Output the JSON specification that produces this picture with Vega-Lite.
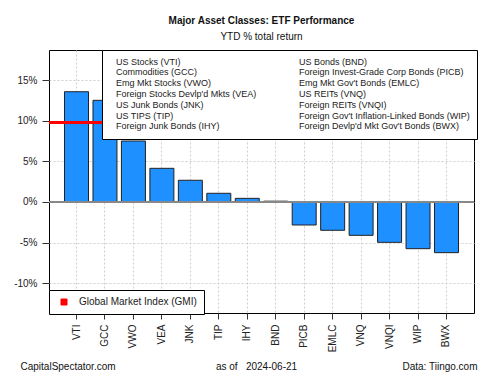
{
  "$schema": "https://vega.github.io/schema/vega-lite/v6.json",
  "width": 425,
  "height": 263,
  "autosize": {"type": "none"},
  "padding": {"left": 49, "top": 50, "right": 26, "bottom": 62},
  "background": "white",
  "config": {
    "font": "Liberation Sans",
    "view": {"stroke": "black", "strokeWidth": 1}
  },
  "title": {
    "text": "Major Asset Classes: ETF Performance",
    "subtitle": "YTD % total return",
    "font": "Liberation Sans",
    "subtitleFont": "Liberation Sans",
    "fontSize": 10,
    "fontWeight": "bold",
    "subtitleFontSize": 10,
    "color": "#111",
    "subtitleColor": "#111",
    "anchor": "middle",
    "offset": 8,
    "subtitlePadding": 6
  },
  "data": {
    "values": [
      {"ticker": "VTI", "name": "US Stocks (VTI)", "ret": 13.56},
      {"ticker": "GCC", "name": "Commodities (GCC)", "ret": 12.5},
      {"ticker": "VWO", "name": "Emg Mkt Stocks (VWO)", "ret": 7.5},
      {"ticker": "VEA", "name": "Foreign Stocks Devlp'd Mkts (VEA)", "ret": 4.14},
      {"ticker": "JNK", "name": "US Junk Bonds (JNK)", "ret": 2.67},
      {"ticker": "TIP", "name": "US TIPS (TIP)", "ret": 1.07},
      {"ticker": "IHY", "name": "Foreign Junk Bonds (IHY)", "ret": 0.45},
      {"ticker": "BND", "name": "US Bonds (BND)", "ret": 0.1},
      {"ticker": "PICB", "name": "Foreign Invest-Grade Corp Bonds (PICB)", "ret": -2.83},
      {"ticker": "EMLC", "name": "Emg Mkt Gov't Bonds (EMLC)", "ret": -3.48},
      {"ticker": "VNQ", "name": "US REITs (VNQ)", "ret": -4.1},
      {"ticker": "VNQI", "name": "Foreign REITs (VNQI)", "ret": -4.96},
      {"ticker": "WIP", "name": "Foreign Gov't Inflation-Linked Bonds (WIP)", "ret": -5.74},
      {"ticker": "BWX", "name": "Foreign Devlp'd Mkt Gov't Bonds (BWX)", "ret": -6.23}
    ]
  },
  "layer": [
    {
      "layer": [
        {
          "mark": {"type": "bar", "fill": "#1E90FF", "stroke": "#222", "strokeWidth": 1},
          "encoding": {
            "x": {
              "field": "ticker",
              "type": "nominal",
              "sort": null,
              "scale": {"paddingInner": 0.157, "paddingOuter": 0.545},
              "axis": {
                "labelAngle": 270,
                "labelFontSize": 10,
                "labelColor": "#222",
                "labelPadding": 5,
                "tickSize": 6,
                "tickColor": "#333",
                "domain": false,
                "grid": true,
                "gridColor": "#cfcfcf",
                "gridDash": [2, 2],
                "title": "as of\u00a0\u00a0\u00a02024-06-21",
                "titleFontSize": 10,
                "titleFontWeight": "normal",
                "titleColor": "#111",
                "titleX": 207,
                "titleY": 53,
                "titleAlign": "center",
                "titleBaseline": "middle",
                "encode": {
                  "labels": {
                    "update": {
                      "angle": {"value": 270},
                      "align": {"value": "right"},
                      "baseline": {"value": "middle"}
                    }
                  }
                }
              }
            },
            "y": {
              "field": "ret",
              "type": "quantitative",
              "scale": {"domain": [-13.65, 18.69], "nice": false, "zero": false},
              "axis": {
                "values": [-10, -5, 0, 5, 10, 15],
                "labelExpr": "datum.value + '%'",
                "labelFontSize": 10,
                "labelColor": "#222",
                "labelPadding": 5,
                "tickSize": 7,
                "tickColor": "#333",
                "domain": false,
                "grid": true,
                "gridColor": "#cfcfcf",
                "gridDash": [2, 2],
                "title": "CapitalSpectator.com",
                "titleFontSize": 10,
                "titleFontWeight": "normal",
                "titleColor": "#111",
                "titleAngle": 0,
                "titleAlign": "left",
                "titleBaseline": "middle",
                "titleX": -29,
                "titleY": 316
              }
            }
          }
        },
        {
          "mark": {"type": "rule", "strokeWidth": 2},
          "encoding": {
            "y": {"datum": 9.8, "type": "quantitative"},
            "color": {
              "datum": "Global Market Index (GMI)",
              "type": "nominal",
              "scale": {"range": ["#ff0000"]},
              "legend": {
                "orient": "none",
                "legendX": 0,
                "legendY": 240,
                "title": null,
                "symbolType": "square",
                "symbolSize": 36,
                "symbolOffset": 3,
                "labelOffset": 10,
                "labelFontSize": 10,
                "labelColor": "#222",
                "padding": 7,
                "fillColor": "white",
                "strokeColor": "black",
                "encode": {
                  "symbols": {
                    "update": {
                      "fill": {"value": "#ff0000"},
                      "stroke": {"value": "black"},
                      "strokeWidth": {"value": 1},
                      "shape": {"value": "square"},
                      "opacity": {"value": 1}
                    }
                  }
                }
              }
            }
          }
        },
        {
          "mark": {"type": "point", "opacity": 0},
          "encoding": {
            "shape": {
              "field": "name",
              "type": "nominal",
              "scale": {
                "domain": [
                  "US Stocks (VTI)", "Commodities (GCC)", "Emg Mkt Stocks (VWO)",
                  "Foreign Stocks Devlp'd Mkts (VEA)", "US Junk Bonds (JNK)",
                  "US TIPS (TIP)", "Foreign Junk Bonds (IHY)",
                  "US Bonds (BND)", "Foreign Invest-Grade Corp Bonds (PICB)",
                  "Emg Mkt Gov't Bonds (EMLC)", "US REITs (VNQ)", "Foreign REITs (VNQI)",
                  "Foreign Gov't Inflation-Linked Bonds (WIP)",
                  "Foreign Devlp'd Mkt Gov't Bonds (BWX)"
                ]
              },
              "legend": {
                "orient": "none",
                "legendX": 53,
                "legendY": 0,
                "columns": 2,
                "title": null,
                "symbolSize": 0,
                "symbolOpacity": 0,
                "symbolStrokeWidth": 0,
                "labelOffset": -2,
                "labelFontSize": 9,
                "labelColor": "#222",
                "labelLimit": 300,
                "columnPadding": 35,
                "rowPadding": 0.8,
                "padding": 7,
                "fillColor": "white",
                "strokeColor": "black"
              }
            }
          }
        }
      ]
    },
    {
      "mark": {"type": "rule", "color": "#888888", "strokeWidth": 1.5},
      "encoding": {
        "y": {
          "datum": 0,
          "type": "quantitative",
          "scale": {"domain": [-13.65, 18.69], "nice": false, "zero": false},
          "axis": {
            "orient": "right",
            "labels": false,
            "ticks": false,
            "domain": false,
            "grid": false,
            "title": "Data: Tiingo.com",
            "titleFontSize": 10,
            "titleFontWeight": "normal",
            "titleColor": "#111",
            "titleAngle": 0,
            "titleAlign": "right",
            "titleBaseline": "middle",
            "titleX": 3,
            "titleY": 316
          }
        }
      }
    }
  ],
  "resolve": {"scale": {"y": "independent"}}
}
